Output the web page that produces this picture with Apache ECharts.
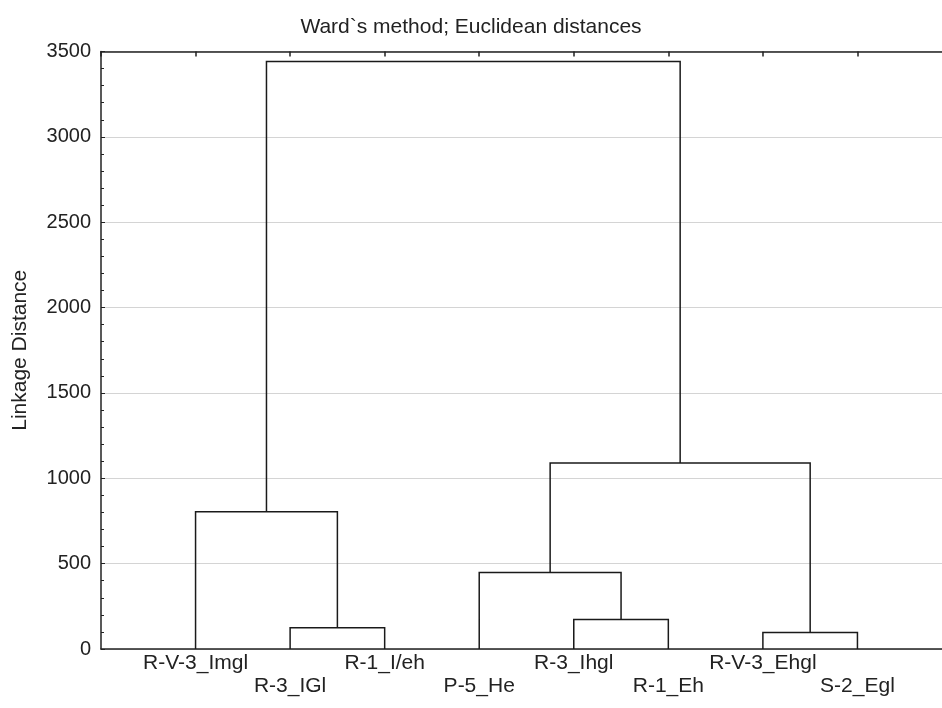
<!DOCTYPE html>
<html>
<head>
<meta charset="utf-8">
<script src="https://cdn.jsdelivr.net/npm/echarts@6/dist/echarts.min.js"></script>
<style>html,body{margin:0;padding:0;background:#fff;}#c{width:942px;height:708px;}</style>
</head>
<body>
<div id="c"></div>
<script>
// Leaves in dendrogram order
const leaves = ['R-V-3_Imgl', 'R-3_IGl', 'R-1_I/eh', 'P-5_He', 'R-3_Ihgl', 'R-1_Eh', 'R-V-3_Ehgl', 'S-2_Egl'];
// Merges: [leftNode, rightNode, linkageDistance]; nodes 0..7 are leaves, new nodes numbered 8 onward
const mergeLeft = [1, 4, 6, 3, 0, 11, 12];
const mergeRight = [2, 5, 7, 9, 8, 10, 13];
const mergeHeight = [124, 173, 97, 448, 804, 1089, 3441];
const yTicks = [0, 500, 1000, 1500, 2000, 2500, 3000, 3500];

// Node positions (x = leaf index + 1, merged node x = midpoint of children)
const nodeX = leaves.map((_, i) => i + 1);
const nodeH = leaves.map(() => 0);
const links = [];
for (let k = 0; k < mergeLeft.length; k++) {
  const a = mergeLeft[k], b = mergeRight[k], h = mergeHeight[k];
  links.push({ coords: [[nodeX[a], nodeH[a]], [nodeX[a], h], [nodeX[b], h], [nodeX[b], nodeH[b]]] });
  nodeX.push((nodeX[a] + nodeX[b]) / 2);
  nodeH.push(h);
}

const FONT = 'Liberation Sans, Arial, sans-serif';
const chart = echarts.init(document.getElementById('c'), null, { renderer: 'canvas' });
chart.setOption({
  backgroundColor: '#ffffff',
  animation: false,
  title: {
    text: 'Ward`s method; Euclidean distances',
    left: 'center',
    top: 12,
    textStyle: { fontFamily: FONT, fontSize: 21, fontWeight: 'normal', color: '#222' }
  },
  grid: { left: 101, right: -10, top: 51.5, bottom: 59, containLabel: false, outerBoundsMode: 'none' },
  xAxis: [
    {
      type: 'value', min: 0, max: 9, interval: 1, position: 'bottom',
      axisLine: { show: true, lineStyle: { color: '#222', width: 1.5 } },
      axisTick: { show: false },
      splitLine: { show: false },
      axisLabel: {
        fontFamily: FONT, fontSize: 21, color: '#222', margin: 3, lineHeight: 23,
        formatter: function (v) {
          const i = Math.round(v) - 1;
          if (i < 0 || i >= leaves.length) return '';
          return (i % 2 === 0 ? '' : '\n') + leaves[i];
        }
      }
    },
    {
      type: 'value', min: 0, max: 9, interval: 1, position: 'top',
      axisLine: { show: true, lineStyle: { color: '#222', width: 1.5 } },
      axisTick: { show: true, inside: true, length: 5, lineStyle: { color: '#222', width: 1.5 } },
      splitLine: { show: false },
      axisLabel: { show: false }
    }
  ],
  yAxis: {
    type: 'value', min: yTicks[0], max: yTicks[yTicks.length - 1], interval: 500,
    name: 'Linkage Distance',
    nameLocation: 'middle',
    nameGap: 70,
    nameTextStyle: { fontFamily: FONT, fontSize: 21, color: '#222' },
    axisLine: { show: true, lineStyle: { color: '#222', width: 1.5 } },
    axisTick: { show: true, inside: true, length: 4, lineStyle: { color: '#222' } },
    minorTick: { show: true, splitNumber: 5, length: 3, lineStyle: { color: '#222' } },
    splitLine: { show: true, lineStyle: { color: '#d4d4d4', width: 1 } },
    axisLabel: {
      fontFamily: FONT, fontSize: 20, color: '#222', margin: 10,
      formatter: function (v) { return String(v); }
    }
  },
  series: [{
    type: 'lines',
    coordinateSystem: 'cartesian2d',
    polyline: true,
    silent: true,
    lineStyle: { color: '#1a1a1a', width: 1.5, opacity: 1 },
    data: links
  }]
});
</script>
</body>
</html>
